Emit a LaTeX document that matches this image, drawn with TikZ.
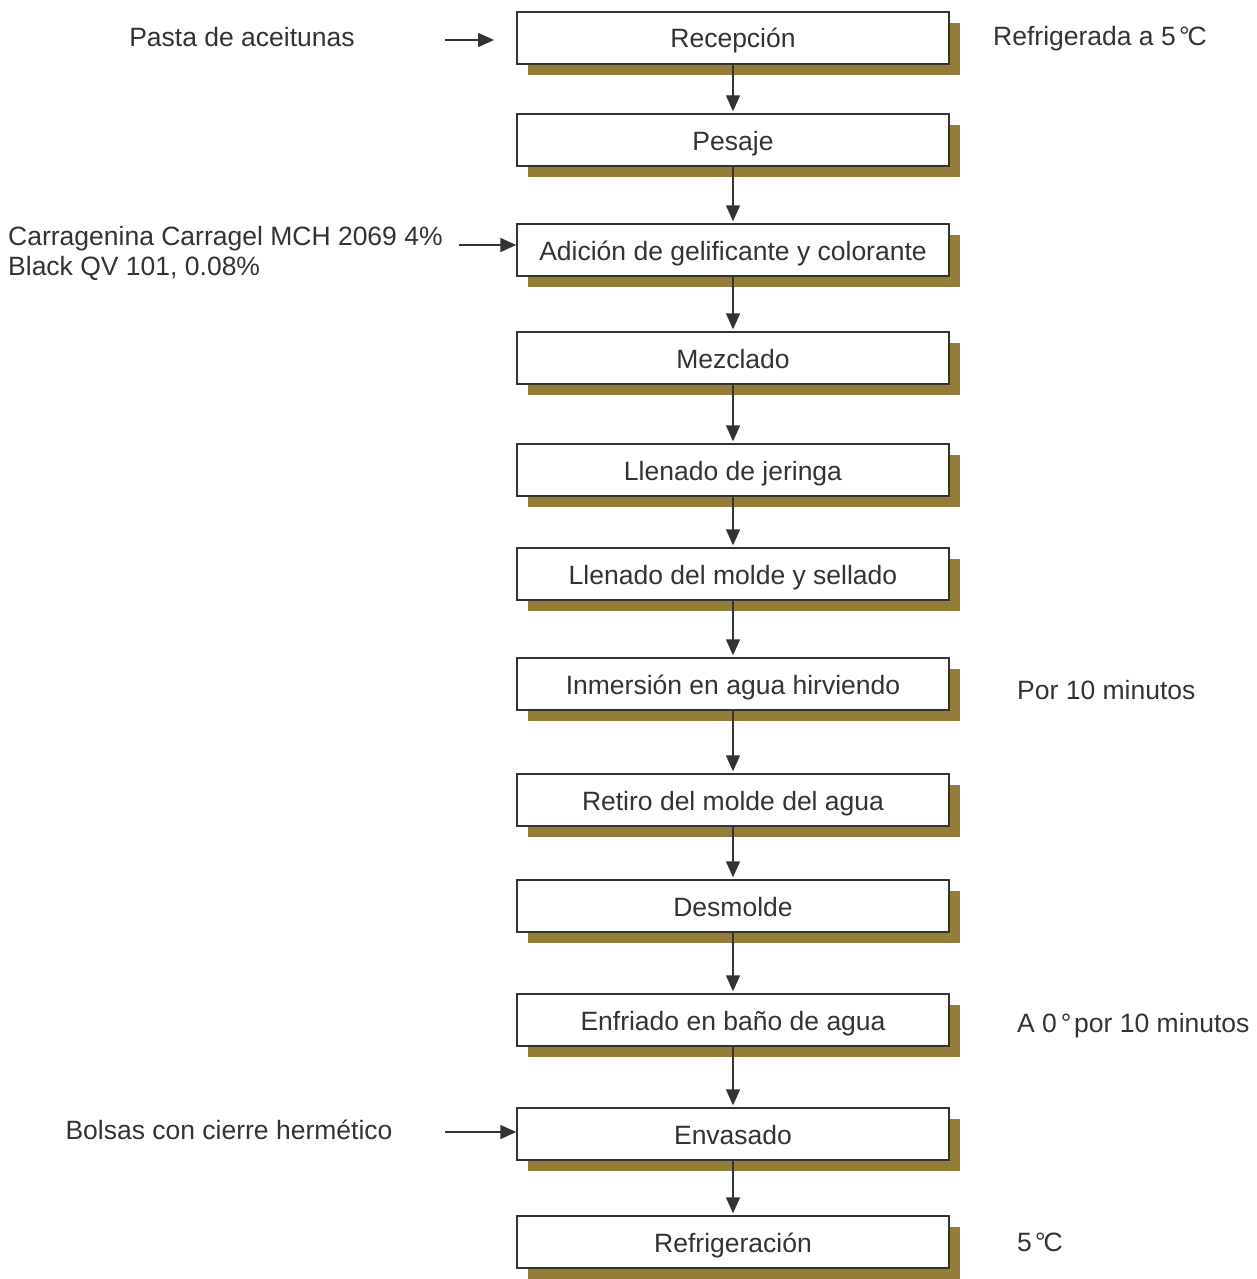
\documentclass[tikz,border=0pt]{standalone}
\usepackage{fontspec}
\setmainfont{Liberation Sans}
\usetikzlibrary{arrows.meta}
\definecolor{ink}{HTML}{333333}
\definecolor{oliveshadow}{HTML}{937D39}
\newcommand{\degC}{\kern0.12em°\kern-0.08em C}
\tikzset{
  x=1pt,y=-1pt,
  stepbox/.style={draw=ink,line width=1.4pt,fill=white,minimum width=432pt,minimum height=52pt,inner sep=0pt,text=ink,font=\fontsize{26.5}{30}\selectfont,text height=20pt,text depth=0pt},
  lbl/.style={text=ink,font=\fontsize{26.5}{30}\selectfont,inner sep=0pt},
  flow/.style={draw=ink,line width=1.4pt,-{Triangle[length=16pt,width=14pt]}}
}
\newcommand{\stepnode}[3]{%
  \fill[oliveshadow] (528,#2+11) rectangle (960,#2+63);
  \node[stepbox] (#1) at (733,#2+26) {#3};
}
\begin{document}
\begin{tikzpicture}
\useasboundingbox (0,0) rectangle (1257,1279);
\stepnode{s1}{12}{Recepción}
\stepnode{s2}{114}{Pesaje}
\stepnode{s3}{224}{Adición de gelificante y colorante}
\stepnode{s4}{332}{Mezclado}
\stepnode{s5}{444}{Llenado de jeringa}
\stepnode{s6}{548}{Llenado del molde y sellado}
\stepnode{s7}{658}{Inmersión en agua hirviendo}
\stepnode{s8}{774}{Retiro del molde del agua}
\stepnode{s9}{880}{Desmolde}
\stepnode{s10}{994}{Enfriado en baño de agua}
\stepnode{s11}{1108}{Envasado}
\stepnode{s12}{1216}{Refrigeración}
\foreach \a/\b in {s1/s2,s2/s3,s3/s4,s4/s5,s5/s6,s6/s7,s7/s8,s8/s9,s9/s10,s10/s11,s11/s12}
  \draw[flow] (\a.south) -- ([yshift=2pt]\b.north);
% left inputs
\node[lbl] (in1) at (242,37) {Pasta de aceitunas};
\coordinate (a1) at (445,40);
\coordinate (b1) at (494,40);
\draw[flow] (a1) -- (b1);
\node[lbl,align=left,anchor=west] (in2) at (8,253) {Carragenina Carragel MCH 2069 4\%\\Black QV 101, 0.08\%};
\coordinate (a2) at (459,245);
\draw[flow] (a2) -- (s3.west |- a2);
\node[lbl] (in3) at (229,1130) {Bolsas con cierre hermético};
\coordinate (a3) at (445,1132);
\draw[flow] (a3) -- (s11.west |- a3);
% right notes
\node[lbl,anchor=west] (n1) at (993,39) {Refrigerada a 5\degC};
\node[lbl,anchor=west] (n2) at (1017,690) {Por 10 minutos};
\node[lbl,anchor=west] (n3) at (1017,1026) {A 0\kern0.15em°\kern0.1em por 10 minutos};
\node[lbl,anchor=west] (n4) at (1017,1242) {5\degC};
\end{tikzpicture}
\end{document}
